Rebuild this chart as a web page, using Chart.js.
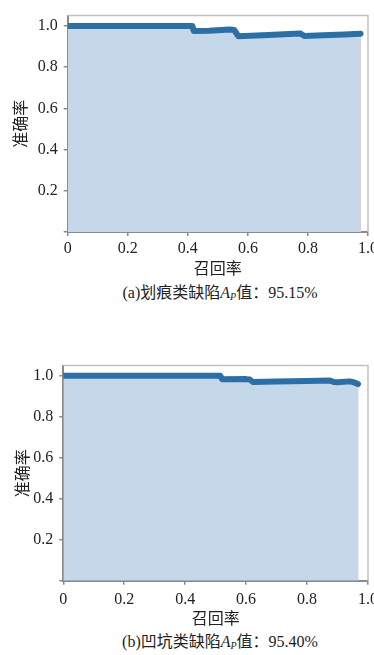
<!DOCTYPE html>
<html>
<head>
<meta charset="utf-8">
<script src="https://cdn.jsdelivr.net/npm/chart.js@4"></script>
<style>
  body { margin: 0; background: #fff; width: 374px; height: 655px; position: relative; overflow: hidden; }
  .box { position: absolute; left: 0; width: 374px; height: 280px; }
  .caption { position: absolute; left: 0; width: 440px; text-align: center; color: #222;
             font: 16px "Liberation Serif", "DejaVu Serif", "Noto Sans CJK SC", serif; line-height: 20px; }
  .caption i { font-style: italic; }
  .caption sub { font-size: 10px; vertical-align: -2px; font-style: italic; }
</style>
</head>
<body>
<div class="box" style="top:0"><canvas id="chart-a"></canvas></div>
<div class="box" style="top:350px"><canvas id="chart-b"></canvas></div>
<div class="caption" style="top:283px">(a)划痕类缺陷<i>A</i><sub>P</sub>值：95.15%</div>
<div class="caption" style="top:632px">(b)凹坑类缺陷<i>A</i><sub>P</sub>值：95.40%</div>
<script>
// tick values shared by both panels
const xTicks = [0, 0.2, 0.4, 0.6, 0.8, 1.0];
const yTicks = [0.2, 0.4, 0.6, 0.8, 1.0];

// (a) scratch defects
const recallA = [0, 0.415, 0.42, 0.47, 0.54, 0.555, 0.568, 0.65, 0.72, 0.775, 0.788, 0.85, 0.92, 0.975];
const precA   = [1.0, 1.0, 0.975, 0.977, 0.983, 0.98, 0.95, 0.955, 0.96, 0.963, 0.951, 0.955, 0.958, 0.962];

// (b) pit defects
const recallB = [0, 0.515, 0.522, 0.6, 0.612, 0.622, 0.7, 0.8, 0.875, 0.888, 0.9, 0.94, 0.955, 0.967];
const precB   = [1.0, 1.0, 0.983, 0.984, 0.982, 0.97, 0.972, 0.975, 0.977, 0.97, 0.969, 0.973, 0.968, 0.96];

const serif = '"Liberation Serif", "DejaVu Serif", serif';
const cjk = '"Noto Sans CJK SC", sans-serif';

// light top/right edges of the plot frame
const framePlugin = {
    id: 'frame',
    afterDatasetsDraw(chart) {
        const a = chart.chartArea;
        const c = chart.ctx;
        c.save();
        c.strokeStyle = '#c2c2c2';
        c.lineWidth = 1.5;
        c.beginPath();
        c.moveTo(a.left, a.top);
        c.lineTo(a.right, a.top);
        c.lineTo(a.right, a.bottom);
        c.stroke();
        c.restore();
    }
};

function makeChart(id, recall, prec, yAxisWidth, xAxisHeight, tickPad, titlePad) {
    const points = recall.map((r, i) => ({ x: r, y: prec[i] }));
    const last = recall.length - 1;
    const edge = [{ x: recall[last], y: 0 }, { x: recall[last], y: prec[last] }];

    return new Chart(document.getElementById(id), {
        type: 'line',
        data: {
            datasets: [{
                data: points,
                borderColor: '#2c6ea6',
                borderWidth: 6,
                borderCapStyle: 'round',
                borderJoinStyle: 'round',
                backgroundColor: '#c4d8e9',
                fill: 'origin',
                pointRadius: 0,
                tension: 0,
                order: 1
            }, {
                data: edge,
                borderColor: '#f2c4c8',
                borderWidth: 1,
                pointRadius: 0,
                fill: false,
                order: 2
            }]
        },
        options: {
            responsive: true,
            maintainAspectRatio: false,
            animation: false,
            layout: { padding: { top: 6, right: 6, left: 0, bottom: 0 } },
            plugins: { legend: { display: false }, tooltip: { enabled: false } },
            scales: {
                x: {
                    type: 'linear',
                    min: 0,
                    max: 1.0,
                    afterBuildTicks: s => { s.ticks = xTicks.map(v => ({ value: v })); },
                    afterFit: s => { s.height = xAxisHeight; s.paddingLeft = 0; s.paddingRight = 0; },
                    ticks: {
                        padding: tickPad,
                        color: '#222',
                        font: { family: serif, size: 16 },
                        maxRotation: 0,
                        callback: v => v === 0 ? '0' : v.toFixed(1)
                    },
                    grid: { drawOnChartArea: false, tickLength: 4, color: '#8a8a8a', lineWidth: 1.5 },
                    border: { color: '#8a8a8a', width: 2 },
                    title: {
                        display: true,
                        text: '召回率',
                        color: '#222',
                        font: { family: cjk, size: 16 },
                        padding: { top: 0, bottom: 2 }
                    }
                },
                y: {
                    min: 0,
                    max: 1.05,
                    afterBuildTicks: s => { s.ticks = [0].concat(yTicks).map(v => ({ value: v })); },
                    afterFit: s => { s.width = yAxisWidth; },
                    ticks: {
                        padding: 6,
                        color: '#222',
                        font: { family: serif, size: 16 },
                        callback: v => v === 0 ? '' : v.toFixed(1)
                    },
                    grid: { drawOnChartArea: false, tickLength: 4, color: '#8a8a8a', lineWidth: 1.5 },
                    border: { color: '#8a8a8a', width: 2 },
                    title: {
                        display: true,
                        text: '准确率',
                        color: '#222',
                        font: { family: cjk, size: 16 },
                        padding: { top: titlePad, bottom: 0 }
                    }
                }
            }
        },
        plugins: [framePlugin]
    });
}

makeChart('chart-a', recallA, precA, 67.7, 48, 3, 10);
makeChart('chart-b', recallB, precB, 63.3, 49.3, 5, 12);
</script>
</body>
</html>
